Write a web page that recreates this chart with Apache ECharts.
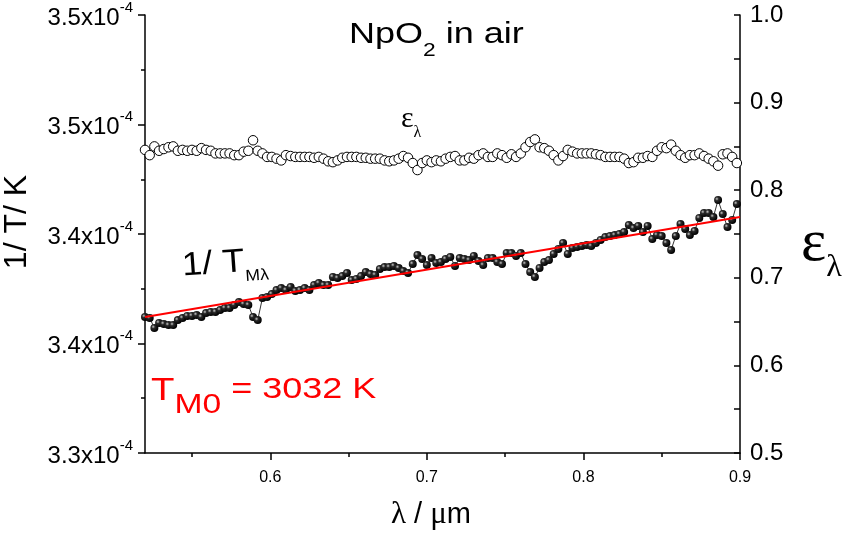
<!DOCTYPE html>
<html><head><meta charset="utf-8">
<script src="https://cdn.jsdelivr.net/npm/echarts@6/dist/echarts.min.js"></script>
<style>html,body{margin:0;padding:0;background:#fff}#c{width:849px;height:533px}</style>
</head><body><div id="c"></div>
<script>
// wavelength (µm)
const lambda = [
0.520,0.523,0.526,0.529,0.532,0.535,0.538,0.541,0.544,0.547,
0.550,0.553,0.556,0.559,0.562,0.565,0.568,0.571,0.574,0.577,
0.580,0.583,0.586,0.589,0.592,0.595,0.598,0.601,0.604,0.607,
0.610,0.613,0.616,0.619,0.622,0.625,0.628,0.631,0.634,0.637,
0.640,0.643,0.646,0.649,0.652,0.655,0.658,0.661,0.664,0.667,
0.670,0.673,0.676,0.679,0.682,0.685,0.688,0.691,0.694,0.697,
0.700,0.703,0.706,0.709,0.712,0.715,0.718,0.721,0.724,0.727,
0.730,0.733,0.736,0.739,0.742,0.745,0.748,0.751,0.754,0.757,
0.760,0.763,0.766,0.769,0.772,0.775,0.778,0.781,0.784,0.787,
0.790,0.793,0.796,0.799,0.802,0.805,0.808,0.811,0.814,0.817,
0.820,0.823,0.826,0.829,0.832,0.835,0.838,0.841,0.844,0.847,
0.850,0.853,0.856,0.859,0.862,0.865,0.868,0.871,0.874,0.877,
0.880,0.883,0.886,0.889,0.892,0.895,0.898];
// 1/T_M (units of 1e-4 K^-1, left axis)
const invT = [
3.3621,3.3616,3.3571,3.3594,3.3589,3.3584,3.3584,3.3607,3.3616,3.3626,
3.3626,3.3630,3.3621,3.3639,3.3644,3.3644,3.3653,3.3662,3.3662,3.3676,
3.3689,3.3680,3.3676,3.3621,3.3607,3.3708,3.3712,3.3726,3.3744,3.3753,
3.3744,3.3758,3.3740,3.3744,3.3753,3.3744,3.3767,3.3776,3.3767,3.3767,
3.3804,3.3799,3.3808,3.3822,3.3790,3.3795,3.3808,3.3826,3.3817,3.3813,
3.3840,3.3849,3.3849,3.3854,3.3845,3.3831,3.3822,3.3863,3.3904,3.3886,
3.3858,3.3890,3.3868,3.3872,3.3886,3.3895,3.3854,3.3890,3.3886,3.3881,
3.3900,3.3877,3.3858,3.3890,3.3890,3.3872,3.3863,3.3913,3.3913,3.3900,
3.3913,3.3863,3.3826,3.3804,3.3845,3.3872,3.3881,3.3909,3.3932,3.3959,
3.3909,3.3936,3.3941,3.3945,3.3950,3.3945,3.3959,3.3973,3.3986,3.3991,
3.3995,3.4000,3.4009,3.4041,3.4027,3.4037,3.4009,3.4037,3.3977,3.3995,
3.3991,3.3959,3.3927,3.3991,3.4046,3.4023,3.3995,3.4014,3.4073,3.4096,
3.4096,3.4078,3.4155,3.4091,3.4032,3.4064,3.4137];
// emissivity (right axis)
const emissivity = [
0.846,0.840,0.850,0.845,0.847,0.849,0.850,0.845,0.846,0.845,
0.846,0.845,0.848,0.846,0.845,0.842,0.842,0.842,0.842,0.840,
0.840,0.844,0.845,0.857,0.845,0.842,0.838,0.838,0.836,0.834,
0.840,0.839,0.838,0.838,0.838,0.838,0.837,0.838,0.836,0.833,
0.832,0.834,0.837,0.838,0.838,0.838,0.837,0.837,0.836,0.836,
0.836,0.834,0.833,0.834,0.836,0.839,0.837,0.831,0.823,0.831,
0.834,0.832,0.834,0.833,0.836,0.838,0.839,0.834,0.834,0.837,
0.836,0.840,0.842,0.838,0.838,0.842,0.840,0.837,0.841,0.838,
0.842,0.849,0.855,0.858,0.849,0.848,0.845,0.840,0.834,0.839,
0.846,0.844,0.842,0.842,0.842,0.842,0.841,0.840,0.838,0.838,
0.838,0.838,0.836,0.831,0.832,0.837,0.837,0.839,0.838,0.845,
0.849,0.848,0.852,0.845,0.840,0.837,0.840,0.840,0.842,0.839,
0.836,0.833,0.828,0.841,0.842,0.838,0.831];
// linear fit
const fitLambda = [0.52, 0.90];
const fitInvT = [3.3621, 3.4078];
// tick labels
const leftTickLabels = ['3.3','3.4','3.4','3.5','3.5'];
const rightTickLabels = ['0.5','0.6','0.7','0.8','0.9','1.0'];
const xLabelValues = [0.6, 0.7, 0.8, 0.9];
const xMinorValues = [0.55, 0.65, 0.75, 0.85];

const SANS = 'Liberation Sans';
const SERIF = 'Liberation Serif';

const chart = echarts.init(document.getElementById('c'), null, {renderer: 'canvas'});
const axisLine = {show: true, lineStyle: {color: '#000', width: 1.5}};

const option = {
  animation: false,
  backgroundColor: '#fff',
  grid: {left: 145, right: 109, top: 15, bottom: 80, containLabel: false},
  xAxis: [{
    type: 'value', min: 0.52, max: 0.9, position: 'bottom',
    axisLine: axisLine,
    axisTick: {show: true, inside: false, length: 7, customValues: xLabelValues, lineStyle: {color: '#000', width: 1.5}},
    axisLabel: {show: true, customValues: xLabelValues, margin: 17, fontFamily: SANS, fontSize: 16, color: '#000',
      formatter: v => v.toFixed(1)},
    splitLine: {show: false}
  }, {
    type: 'value', min: 0.52, max: 0.9, position: 'bottom',
    axisLine: {show: false},
    axisTick: {show: true, inside: false, length: 4, customValues: xMinorValues, lineStyle: {color: '#000', width: 1.5}},
    axisLabel: {show: false},
    splitLine: {show: false}
  }],
  yAxis: [{
    type: 'value', min: 3.30, max: 3.50, interval: 0.05, position: 'left',
    axisLine: axisLine,
    axisTick: {show: true, inside: false, length: 7, lineStyle: {color: '#000', width: 1.5}},
    minorTick: {show: true, splitNumber: 2, length: 4, lineStyle: {color: '#000', width: 1.5}},
    axisLabel: {
      margin: 12, color: '#000',
      formatter: v => '{b|' + leftTickLabels[Math.round((v - 3.30) / 0.05)] + 'x10}{s|-4}',
      rich: {
        b: {fontFamily: SANS, fontSize: 24, color: '#000', verticalAlign: 'bottom', lineHeight: 24},
        s: {fontFamily: SANS, fontSize: 15, color: '#000', verticalAlign: 'top', lineHeight: 30}
      }
    },
    splitLine: {show: false}, minorSplitLine: {show: false}
  }, {
    type: 'value', min: 0.5, max: 1.0, interval: 0.1, position: 'right',
    axisLine: axisLine,
    axisTick: {show: true, inside: true, length: 6, lineStyle: {color: '#000', width: 1.5}},
    minorTick: {show: true, splitNumber: 2, length: 6, lineStyle: {color: '#000', width: 1.5}},
    axisLabel: {margin: 10, fontFamily: SANS, fontSize: 24, color: '#000',
      formatter: v => rightTickLabels[Math.round((v - 0.5) / 0.1)]},
    splitLine: {show: false}, minorSplitLine: {show: false}
  }],
  series: [{
    name: 'emissivity', type: 'scatter', yAxisIndex: 1, xAxisIndex: 0,
    data: lambda.map((x, i) => [x, emissivity[i]]),
    symbol: 'circle', symbolSize: 9.5,
    itemStyle: {color: '#fff', borderColor: '#000', borderWidth: 1, opacity: 1},
    z: 3
  }, {
    name: 'invT', type: 'line', yAxisIndex: 0, xAxisIndex: 0,
    data: lambda.map((x, i) => [x, invT[i]]),
    symbol: 'circle', symbolSize: 8, showSymbol: true,
    lineStyle: {color: '#000', width: 0.8},
    itemStyle: {
      color: {type: 'radial', x: 0.35, y: 0.35, r: 0.65,
        colorStops: [{offset: 0, color: '#c8c8c8'}, {offset: 0.35, color: '#2a2a2a'}, {offset: 1, color: '#000'}]},
      borderWidth: 0
    },
    z: 4
  }, {
    name: 'fit', type: 'line', yAxisIndex: 0, xAxisIndex: 0,
    data: fitLambda.map((x, i) => [x, fitInvT[i]]),
    symbol: 'none', lineStyle: {color: '#ff0000', width: 2}, z: 5
  }],
  graphic: [
    { // title
      type: 'text', x: 349, y: 20, scaleX: 1.2,
      style: {
        text: '{a|NpO}{s|2}{a| in air}', align: 'left', verticalAlign: 'top',
        rich: {
          a: {fontFamily: SANS, fontSize: 30, fill: '#000', verticalAlign: 'top', lineHeight: 30},
          s: {fontFamily: SANS, fontSize: 19, fill: '#000', verticalAlign: 'bottom', lineHeight: 40}
        }
      }
    },
    { // epsilon lambda label in plot
      type: 'text', x: 401, y: 104,
      style: {
        text: '{e|ε}{l|λ}', align: 'left', verticalAlign: 'top',
        rich: {
          e: {fontFamily: SERIF, fontSize: 30, fill: '#000', verticalAlign: 'top', lineHeight: 30},
          l: {fontFamily: SERIF, fontSize: 16, fill: '#000', verticalAlign: 'bottom', lineHeight: 37}
        }
      }
    },
    { // 1/ T_Mλ label
      type: 'text', x: 181, y: 250, rotation: 0.07, scaleX: 1.1,
      style: {
        text: '{a|1/ T}{s|Mλ}', align: 'left', verticalAlign: 'top',
        rich: {
          a: {fontFamily: SANS, fontSize: 33, fill: '#000', verticalAlign: 'top', lineHeight: 33},
          s: {fontFamily: SANS, fontSize: 16, fill: '#000', verticalAlign: 'bottom', lineHeight: 39}
        }
      }
    },
    { // T_M0 = 3032 K
      type: 'text', x: 151, y: 375, scaleX: 1.2,
      style: {
        text: '{t|T}{m|M0}{e| = 3032 K}', align: 'left', verticalAlign: 'top',
        rich: {
          t: {fontFamily: SANS, fontSize: 32, fill: '#ff0000', verticalAlign: 'top', lineHeight: 32},
          m: {fontFamily: SANS, fontSize: 28, fill: '#ff0000', verticalAlign: 'bottom', lineHeight: 44},
          e: {fontFamily: SANS, fontSize: 30, fill: '#ff0000', verticalAlign: 'top', lineHeight: 32}
        }
      }
    },
    { // left axis title
      type: 'text', x: 17, y: 222, rotation: Math.PI / 2,
      style: {
        text: '1/ T/ K', align: 'center', verticalAlign: 'middle',
        fontFamily: SANS, fontSize: 32, fill: '#000'
      }
    },
    { // right axis title
      type: 'text', x: 801, y: 214,
      style: {
        text: '{e|ε}{l|λ}', align: 'left', verticalAlign: 'top',
        rich: {
          e: {fontFamily: SERIF, fontSize: 60, fill: '#000', verticalAlign: 'top', lineHeight: 60},
          l: {fontFamily: SERIF, fontSize: 32, fill: '#000', verticalAlign: 'bottom', lineHeight: 70}
        }
      }
    },
    { // x axis title
      type: 'text', x: 431, y: 515,
      style: {
        text: '{l|λ}{a| / }{l|μ}{a|m}', align: 'center', verticalAlign: 'middle',
        rich: {
          l: {fontFamily: SERIF, fontSize: 31, fill: '#000', lineHeight: 30},
          a: {fontFamily: SANS, fontSize: 29, fill: '#000', lineHeight: 30}
        }
      }
    }
  ]
};
chart.setOption(option);
</script>
</body></html>
